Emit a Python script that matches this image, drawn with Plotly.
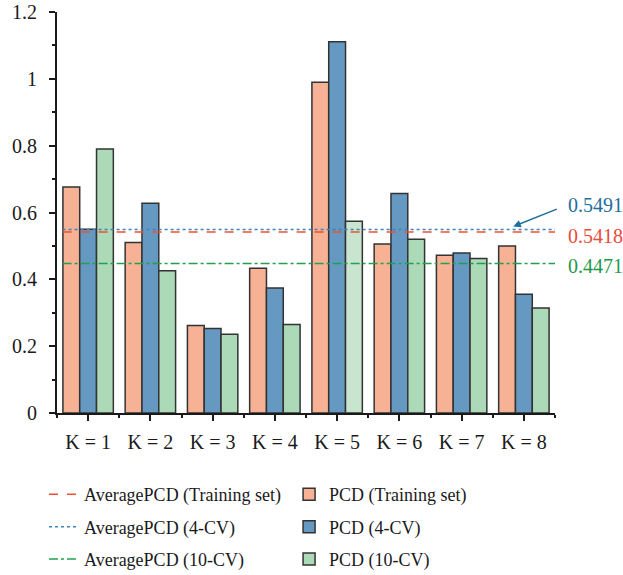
import plotly.graph_objects as go

categories = ["K = 1", "K = 2", "K = 3", "K = 4", "K = 5", "K = 6", "K = 7", "K = 8"]
pcd_training = [0.676, 0.510, 0.262, 0.433, 0.990, 0.506, 0.472, 0.500]
pcd_4cv = [0.550, 0.628, 0.253, 0.374, 1.111, 0.657, 0.479, 0.355]
pcd_10cv = [0.790, 0.426, 0.236, 0.265, 0.574, 0.520, 0.462, 0.314]
avg_training = 0.5418
avg_4cv = 0.5491
avg_10cv = 0.4471
y_ticks = [0, 0.2, 0.4, 0.6, 0.8, 1.0, 1.2]
y_ticktext = ["0", "0.2", "0.4", "0.6", "0.8", "1", "1.2"]

xpos = list(range(1, len(categories) + 1))
FONT = "Liberation Serif"
EDGE = "#333333"
TXT = "#1a1a1a"

c_train = "#F7B194"
c_4cv = "#6699C2"
c_10cv = "#ACD9B7"
c_10cv_list = [c_10cv] * len(categories)
c_10cv_list[4] = "#C8E5D0"

fig = go.Figure()

line_x = [0.59, 8.5]
fig.add_trace(go.Scatter(x=line_x, y=[avg_training] * 2, mode="lines",
                         line=dict(color="#F0502F", width=1.5, dash="dash"),
                         name="AveragePCD (Training set)", legend="legend", legendgroup="a1"))
fig.add_trace(go.Scatter(x=line_x, y=[avg_4cv] * 2, mode="lines",
                         line=dict(color="#3A85BC", width=1.5, dash="dot"),
                         name="AveragePCD (4-CV)", legend="legend", legendgroup="a2"))
fig.add_trace(go.Scatter(x=line_x, y=[avg_10cv] * 2, mode="lines",
                         line=dict(color="#22A050", width=1.5, dash="dashdot"),
                         name="AveragePCD (10-CV)", legend="legend", legendgroup="a3"))

fig.add_trace(go.Bar(x=xpos, y=pcd_training, name="PCD (Training set)",
                     marker=dict(color=c_train, line=dict(color=EDGE, width=1.5)),
                     legend="legend2", legendgroup="b1"))
fig.add_trace(go.Bar(x=xpos, y=pcd_4cv, name="PCD (4-CV)",
                     marker=dict(color=c_4cv, line=dict(color=EDGE, width=1.5)),
                     legend="legend2", legendgroup="b2"))
fig.add_trace(go.Bar(x=xpos, y=pcd_10cv, name="PCD (10-CV)",
                     marker=dict(color=c_10cv_list, line=dict(color=EDGE, width=1.5)),
                     legend="legend2", legendgroup="b3"))

# value annotations
fig.add_annotation(x=7.83, y=avg_4cv, yshift=3, xref="x", yref="y", ax=45, ay=-18,
                   showarrow=True, arrowhead=2, arrowsize=1, arrowwidth=1.5,
                   arrowcolor="#1F6E9C", text="")
fig.add_annotation(x=1.022, y=avg_4cv, yshift=25, xref="paper", yref="y", xanchor="left",
                   text=f"{avg_4cv:.4f}", showarrow=False,
                   font=dict(family=FONT, size=20, color="#1F6E9C"))
fig.add_annotation(x=1.022, y=avg_training, yshift=-4, xref="paper", yref="y", xanchor="left",
                   text=f"{avg_training:.4f}", showarrow=False,
                   font=dict(family=FONT, size=20, color="#E84C3D"))
fig.add_annotation(x=1.022, y=avg_10cv, yshift=-2, xref="paper", yref="y", xanchor="left",
                   text=f"{avg_10cv:.4f}", showarrow=False,
                   font=dict(family=FONT, size=20, color="#1E9A4A"))

legend_common = dict(font=dict(family=FONT, size=18, color=TXT),
                     bgcolor="rgba(0,0,0,0)", orientation="v",
                     xref="container", yref="container",
                     xanchor="left", yanchor="top", tracegroupgap=6,
                     traceorder="grouped")
fig.update_layout(
    width=623, height=575,
    margin=dict(l=57, r=68, t=12, b=162, autoexpand=False),
    plot_bgcolor="white", paper_bgcolor="white",
    font=dict(family=FONT, size=20, color=TXT),
    barmode="group", bargap=0.19, bargroupgap=0,
    legend=dict(x=0.0706, y=0.172, **legend_common),
    legend2=dict(x=0.464, y=0.172, **legend_common),
    xaxis=dict(range=[0.5, 8.5], tickvals=xpos, ticktext=categories,
               tickfont=dict(family=FONT, size=20, color=TXT),
               showgrid=False, zeroline=False, showline=True, linecolor=TXT,
               linewidth=2, ticks="outside", ticklen=6, tickwidth=1.5, tickcolor=TXT,
               ticklabelstandoff=4,
               minor=dict(tick0=0.5, dtick=1, ticks="outside", ticklen=3,
                          tickwidth=1.5, tickcolor=TXT, showgrid=False)),
    yaxis=dict(range=[0, 1.2], tickvals=y_ticks, ticktext=y_ticktext,
               tickfont=dict(family=FONT, size=20, color=TXT),
               showgrid=False, zeroline=False, showline=True, linecolor=TXT,
               linewidth=2, ticks="outside", ticklen=6, tickwidth=1.5, tickcolor=TXT,
               ticklabelstandoff=8,
               minor=dict(tick0=0.1, dtick=0.2, ticks="outside", ticklen=3,
                          tickwidth=1.5, tickcolor=TXT, showgrid=False)),
)

fig.write_html("out.html", config={"displayModeBar": False},
               post_script="document.body.style.margin='0';")
